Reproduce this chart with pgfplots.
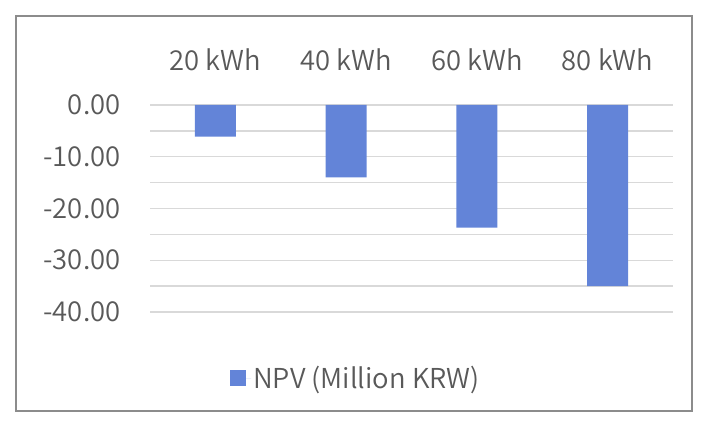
\documentclass[border=0pt]{standalone}
\usepackage{fontspec}
\setmainfont{Noto Sans CJK KR}[UprightFont={* DemiLight}]
\usepackage{pgfplots}
\pgfplotsset{compat=1.18}
\definecolor{barblue}{HTML}{6384D8}
\definecolor{txtgray}{HTML}{595959}
\definecolor{gridgray}{HTML}{D9D9D9}
\definecolor{framegray}{HTML}{8C8C8C}
\begin{document}
\begin{tikzpicture}[x=1bp,y=1bp]
\useasboundingbox (0,0) rectangle (708,429);
\draw[framegray, line width=2bp] (16,18) rectangle (692,413);
\begin{axis}[
  at={(150bp,117bp)}, anchor=south west,
  scale only axis, width=523bp, height=207bp,
  xmin=-0.5, xmax=3.5, ymin=-40, ymax=0,
  xtick={0,1,2,3},
  xticklabels={20 kWh,40 kWh,60 kWh,80 kWh},
  xticklabel pos=top,
  xticklabel style={yshift=31bp},
  ytick={0,-10,-20,-30,-40},
  minor ytick={-5,-15,-25,-35},
  ymajorgrids, yminorgrids,
  major grid style={gridgray, line width=1.5bp},
  minor grid style={gridgray, line width=1.5bp},
  axis line style={draw=none},
  major tick length=0pt, minor tick length=0pt,
  tick style={draw=none},
  yticklabel style={xshift=-26bp},
  /pgf/number format/assume math mode=true,
  yticklabel={\pgfmathprintnumber[fixed,fixed zerofill,precision=2]{\tick}},
  ticklabel style={font=\fontsize{27.5}{33}\selectfont, text=txtgray},
  ybar, bar width=41bp,
  legend style={at={(0.394,-0.32)}, anchor=center, draw=none,
    font=\fontsize{27.5}{33}\selectfont, text=txtgray,
    legend cell align=left},
  legend image code/.code={\fill[barblue] (0bp,-8bp) rectangle (16bp,8bp); \path (0bp,0bp) -- (21bp,0bp);},
]
\addplot[fill=barblue, draw=none, bar shift=0pt] coordinates {(0,-6.1) (1,-14.0) (2,-23.7) (3,-35.0)};
\addlegendentry{NPV (Million KRW)}
\end{axis}
\end{tikzpicture}
\end{document}
